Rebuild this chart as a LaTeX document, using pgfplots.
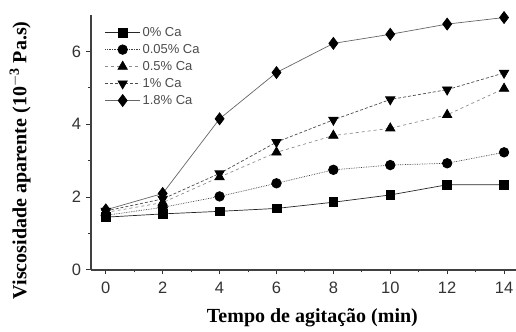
\documentclass[border=0pt]{standalone}
\usepackage{pgfplots}
\pgfplotsset{compat=1.18}
\usepackage{fontspec}
\setmainfont{Liberation Serif}
\setsansfont{Liberation Sans}
\begin{document}
\begin{tikzpicture}
\begin{axis}[
  scale only axis, width=425pt, height=255pt,
  xmin=-0.52, xmax=14.42, ymin=0, ymax=7,
  axis x line*=bottom, axis y line*=left,
  axis line style={black!75, line width=1.3pt},
  xtick={0,2,...,14}, ytick={0,2,4,6},
  minor x tick num=1, minor y tick num=1,
  tick align=outside, major tick length=4.5pt, minor tick length=2.5pt,
  tick style={black!80, line width=1pt},
  /pgf/number format/assume math mode=true,
  tick label style={font=\sffamily\fontsize{16.5}{16.5}\selectfont, text=black!80},
  xticklabel style={yshift=-4pt},
  yticklabel style={xshift=-2pt},
  xlabel={\bfseries Tempo de agitação (min)},
  ylabel={\bfseries Viscosidade aparente (10$^{\mathbf{-3}}$ Pa.s)},
  label style={font=\rmfamily\bfseries\fontsize{20}{20}\selectfont},
  xlabel style={at={(axis description cs:0.521,-0.188)}, anchor=center},
  ylabel style={at={(axis description cs:-0.167,0.43)}, anchor=center},
  legend style={draw=none, fill=none, at={(axis description cs:0.025,0.968)}, anchor=north west,
    font=\sffamily\fontsize{13}{13.5}\selectfont, text=black!70,
    row sep=2.4pt},
  legend cell align=left,
  legend image code/.code={\draw[mark repeat=2,mark phase=2] plot coordinates {(0pt,0pt) (17.5pt,0pt) (35pt,0pt)};},
  every axis plot/.append style={line width=0.7pt},
]
\addplot[black!85, solid, mark=square*, mark size=4.4pt, mark options={solid, black, fill=black}] coordinates {
(0,1.45) (2,1.54) (4,1.61) (6,1.69) (8,1.86) (10,2.06) (12,2.34) (14,2.34)};
\addlegendentry{0\% Ca}
\addplot[black!75, densely dotted, mark=*, mark size=4.8pt, mark options={solid, black, fill=black}] coordinates {
(0,1.50) (2,1.72) (4,2.02) (6,2.38) (8,2.75) (10,2.88) (12,2.93) (14,3.23)};
\addlegendentry{0.05\% Ca}
\addplot[black!45, dashed, mark=triangle*, mark size=5.4pt, mark options={solid, black, fill=black}] coordinates {
(0,1.58) (2,1.85) (4,2.55) (6,3.23) (8,3.69) (10,3.89) (12,4.26) (14,4.98)};
\addlegendentry{0.5\% Ca}
\addplot[black!70, densely dashed, mark=triangle*, mark size=5.4pt, mark options={solid, black, fill=black, rotate=180}] coordinates {
(0,1.62) (2,1.95) (4,2.65) (6,3.51) (8,4.12) (10,4.68) (12,4.95) (14,5.41)};
\addlegendentry{1\% Ca}
\addplot[black!60, solid, mark=diamond*, mark size=6pt, mark options={solid, black, fill=black}] coordinates {
(0,1.65) (2,2.10) (4,4.15) (6,5.42) (8,6.22) (10,6.47) (12,6.75) (14,6.93)};
\addlegendentry{1.8\% Ca}
\end{axis}
\pgfresetboundingbox
\path ([xshift=-91pt,yshift=-62pt]current axis.south west) rectangle ([yshift=15pt]current axis.north east);
\end{tikzpicture}
\end{document}
